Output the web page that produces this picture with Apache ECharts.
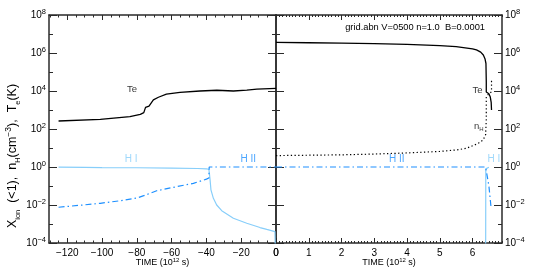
<!DOCTYPE html>
<html><head><meta charset="utf-8">
<script src="https://cdn.jsdelivr.net/npm/echarts@6/dist/echarts.min.js"></script>
<style>html,body{margin:0;padding:0;background:#fff}#c{width:551px;height:275px}</style>
</head><body><div id="c"></div>
<script>
// ---------- data (time in 10^12 s) ----------
// Left panel: approach / pre-shock side
const teLeftX = [-125, -101, -84, -78, -76, -75, -73, -70.5, -67.6, -63, -55.2, -43.7, -34, -24.5, -16.8, -11, 0];
const teLeftK = [263, 324, 447, 589, 724, 1380, 1620, 3390, 4680, 6760, 8510, 10000, 10960, 10000, 11220, 12590, 13800];

const hiiLeftX = [-125, -110, -101, -90, -80, -76, -68.6, -59, -47.5, -40, -38.6, -38.4, -20, 0];
const hiiLeft  = [0.0076, 0.0102, 0.0123, 0.0166, 0.0234, 0.0309, 0.0562, 0.0851, 0.138, 0.229, 0.263, 1.0, 1.0, 1.0];

const hiLeftX = [-125, -110, -100, -80, -60, -45, -40, -38.6, -38.3, -37.9, -37.4, -36, -34.1, -31.2, -24.5, -16.8, -9.2, -5.3, -0.6, 0];
const hiLeft  = [0.977, 0.955, 0.933, 0.912, 0.871, 0.832, 0.794, 0.759, 0.468, 0.209, 0.063, 0.0224, 0.01, 0.005, 0.002, 0.0011, 0.00065, 0.00052, 0.0004, 0.000001];

// Right panel: post-shock side
const teRightX = [0, 1, 2, 3, 4, 5, 5.5, 6.0, 6.12, 6.25, 6.33, 6.38, 6.41, 6.42, 6.42, 6.44, 6.5, 6.54, 6.57, 6.58];
const teRightK = [3.63e6, 3.47e6, 3.31e6, 3.09e6, 2.82e6, 2.45e6, 2.14e6, 1.66e6, 1.45e6, 1.12e6, 7.9e5, 5.0e5, 2.8e5, 3.2e4, 8.9e3, 7.2e3, 7.2e3, 5.0e3, 2.5e3, 1.0e3];

const nhRightX = [0, 1, 2, 3, 4, 5, 5.5, 5.8, 6.07, 6.2, 6.32, 6.4, 6.42, 6.42, 6.5, 6.58, 6.58];
const nhRight  = [3.98, 4.17, 4.37, 4.79, 5.5, 6.6, 7.9, 9.5, 14.5, 19, 26, 50, 316, 5000, 7080, 9120, 38000];

const hiiRightX = [0, 6.4, 6.43, 6.5, 6.57];
const hiiRight  = [1.0, 1.0, 0.79, 0.1, 0.0063];

const hiRightX = [6.4, 6.405, 6.45, 6.5];
const hiRight  = [0.000001, 0.8, 0.95, 0.97];

// tick values
const leftMajorTicks  = [-120, -100, -80, -60, -40, -20, 0];
const rightMajorTicks = [0, 1, 2, 3, 4, 5, 6];
const yMajorTicks = [1e-4, 1e-2, 1e0, 1e2, 1e4, 1e6, 1e8];
const yMinorTicks = [1e-3, 1e-1, 1e1, 1e3, 1e5, 1e7];
const leftMinorTicks = []; for (let v = -130; v <= 0; v += 5) leftMinorTicks.push(v);
const rightMinorTicks = []; for (let i = 0; i <= 69; i++) rightMinorTicks.push(+(i * 0.1).toFixed(1));

const titleText = 'grid.abn V=0500 n=1.0  B=0.0001';
const leftNotes  = [{t: '{k|Te}', x: -82.8, y: 12600}, {t: '{hi|H I}', x: -83.3, y: 2.6}, {t: '{hii|H II}', x: -16, y: 2.6}];
const rightNotes = [{t: '{k|Te}', x: 6.15, y: 11200}, {t: '{k|n}{ks|H}', x: 6.19, y: 132}, {t: '{hii|H II}', x: 3.69, y: 2.6}, {t: '{hi|H I}', x: 6.65, y: 2.6}];

// ---------- chart ----------
const FONT = "'Liberation Sans', Arial, Helvetica, sans-serif";
const AX = '#2a2a2a';
const HI_C = '#87CEFA';
const HII_C = '#1E90FF';
const zip = (xs, ys) => xs.map((x, i) => [x, ys[i]]);
const minus = v => (v < 0 ? '\u2212' + (-v) : '' + v);

const yRich = {
  b: {fontSize: 10, fontFamily: FONT, color: '#000', verticalAlign: 'middle', lineHeight: 14},
  s: {fontSize: 7.5, fontFamily: FONT, color: '#000', verticalAlign: 'top', lineHeight: 14}
};
const yFmt = v => { const e = Math.round(Math.log10(v)); return '{b|10}{s|' + minus(e) + '}'; };

function xAxesFor(grid, min, max, major, minor, majLen, minLen) {
  const base = {type: 'value', gridIndex: grid, min: min, max: max, splitLine: {show: false}};
  const line = {show: true, onZero: false, lineStyle: {color: AX, width: 1.5}};
  return [
    Object.assign({}, base, {position: 'bottom', axisLine: line,
      axisTick: {show: true, inside: true, length: majLen, customValues: major, lineStyle: {color: AX, width: 1}},
      axisLabel: {show: true, customValues: major, formatter: minus, fontSize: 10, fontFamily: FONT, color: '#000', margin: 5},
      name: '{b|TIME (10}{s|12}{b| s)}', nameLocation: 'middle', nameGap: 14, nameMoveOverlap: false,
      nameTextStyle: {rich: {
        b: {fontSize: 9, fontFamily: FONT, color: '#000', verticalAlign: 'middle', lineHeight: 12},
        s: {fontSize: 6, fontFamily: FONT, color: '#000', verticalAlign: 'top', lineHeight: 12}}}}),
    Object.assign({}, base, {position: 'bottom', axisLine: {show: false, onZero: false},
      axisTick: {show: true, inside: true, length: minLen, customValues: minor, lineStyle: {color: AX, width: 1}},
      axisLabel: {show: false}}),
    Object.assign({}, base, {position: 'top', axisLine: line,
      axisTick: {show: true, inside: true, length: majLen, customValues: major, lineStyle: {color: AX, width: 1}},
      axisLabel: {show: false}}),
    Object.assign({}, base, {position: 'top', axisLine: {show: false, onZero: false},
      axisTick: {show: true, inside: true, length: minLen, customValues: minor, lineStyle: {color: AX, width: 1}},
      axisLabel: {show: false}})
  ];
}

function yAxesFor(grid, labelSide, withName) {
  const base = {type: 'log', logBase: 10, gridIndex: grid, min: 1e-4, max: 1e8, splitLine: {show: false}};
  const line = {show: true, onZero: false, lineStyle: {color: AX, width: 1.5}};
  const mk = (pos, labels) => {
    const ax = Object.assign({}, base, {position: pos, axisLine: line,
      axisTick: {show: true, inside: true, length: 8, customValues: yMajorTicks, lineStyle: {color: AX, width: 1}},
      axisLabel: labels ? {show: true, customValues: yMajorTicks, formatter: yFmt, rich: yRich, margin: 3} : {show: false}});
    if (labels && withName) {
      ax.name = '{b|X}{sb|ion}{b|  (<1),  n}{sb|H}{b|(cm}{sp|\u22123}{b|),  T}{sb|e}{b|(K)}';
      ax.nameLocation = 'middle';
      ax.nameRotate = 90;
      ax.nameGap = 27;
      ax.nameMoveOverlap = false;
      ax.nameTextStyle = {padding: [0, 54, 0, 0], rich: {
        b: {fontSize: 12.5, fontFamily: FONT, color: '#000', verticalAlign: 'middle', lineHeight: 18},
        sb: {fontSize: 7.5, fontFamily: FONT, color: '#000', verticalAlign: 'bottom', lineHeight: 18},
        sp: {fontSize: 8.5, fontFamily: FONT, color: '#000', verticalAlign: 'top', lineHeight: 18}}};
    }
    return ax;
  };
  const mkMinor = pos => Object.assign({}, base, {position: pos, axisLine: {show: false, onZero: false},
    axisTick: {show: true, inside: true, length: 4, customValues: yMinorTicks, lineStyle: {color: AX, width: 1}},
    axisLabel: {show: false}});
  return [mk('left', labelSide === 'left'), mkMinor('left'), mk('right', labelSide === 'right'), mkMinor('right')];
}

const noteRich = {
  k: {fontSize: 9.5, fontFamily: FONT, color: '#000', verticalAlign: 'middle', lineHeight: 12},
  ks: {fontSize: 6, fontFamily: FONT, color: '#000', verticalAlign: 'bottom', lineHeight: 12},
  hi: {fontSize: 10, fontFamily: FONT, color: HI_C},
  hii: {fontSize: 10, fontFamily: FONT, color: HII_C}
};
function notes(xi, yi, arr) {
  return {type: 'scatter', xAxisIndex: xi, yAxisIndex: yi, symbolSize: 0, silent: true,
    data: arr.map(n => ({value: [n.x, n.y], t: n.t})),
    label: {show: true, position: 'inside', formatter: p => p.data.t, rich: noteRich}};
}

const line = (xi, yi, data, color, width, type) => ({
  type: 'line', xAxisIndex: xi, yAxisIndex: yi, data: data, symbol: 'none', silent: true, clip: true,
  lineStyle: {color: color, width: width, type: type || 'solid'}
});
const DASHDOT = [6, 3, 1.5, 3];
const DOT = [1.3, 2.4];

const option = {
  animation: false,
  backgroundColor: '#fff',
  title: {text: titleText, right: 61, top: 18, textStyle: {fontSize: 9.3, fontWeight: 'normal', fontFamily: FONT, color: '#000'}},
  grid: [
    {left: 49, right: 275, top: 15, bottom: 32, outerBoundsMode: 'none', containLabel: false},
    {left: 276, right: 49, top: 15, bottom: 32, outerBoundsMode: 'none', containLabel: false}
  ],
  xAxis: [].concat(
    xAxesFor(0, -130.5, 0, leftMajorTicks, leftMinorTicks, 5, 2.5),
    xAxesFor(1, 0, 6.9, rightMajorTicks, rightMinorTicks, 5, 2)
  ),
  yAxis: [].concat(yAxesFor(0, 'left', true), yAxesFor(1, 'right', false)),
  series: [
    line(0, 0, zip(teLeftX, teLeftK), '#000', 1.3),
    line(0, 0, zip(hiLeftX, hiLeft), HI_C, 1.2),
    line(0, 0, zip(hiiLeftX, hiiLeft), HII_C, 1.2, DASHDOT),
    line(4, 4, zip(teRightX, teRightK), '#000', 1.3),
    line(4, 4, zip(nhRightX, nhRight), '#000', 1.2, DOT),
    line(4, 4, zip(hiRightX, hiRight), HI_C, 1.2),
    line(4, 4, zip(hiiRightX, hiiRight), HII_C, 1.2, DASHDOT),
    notes(0, 0, leftNotes),
    notes(4, 4, rightNotes)
  ]
};
echarts.init(document.getElementById('c'), null, {renderer: 'canvas'}).setOption(option);
</script>
</body></html>
